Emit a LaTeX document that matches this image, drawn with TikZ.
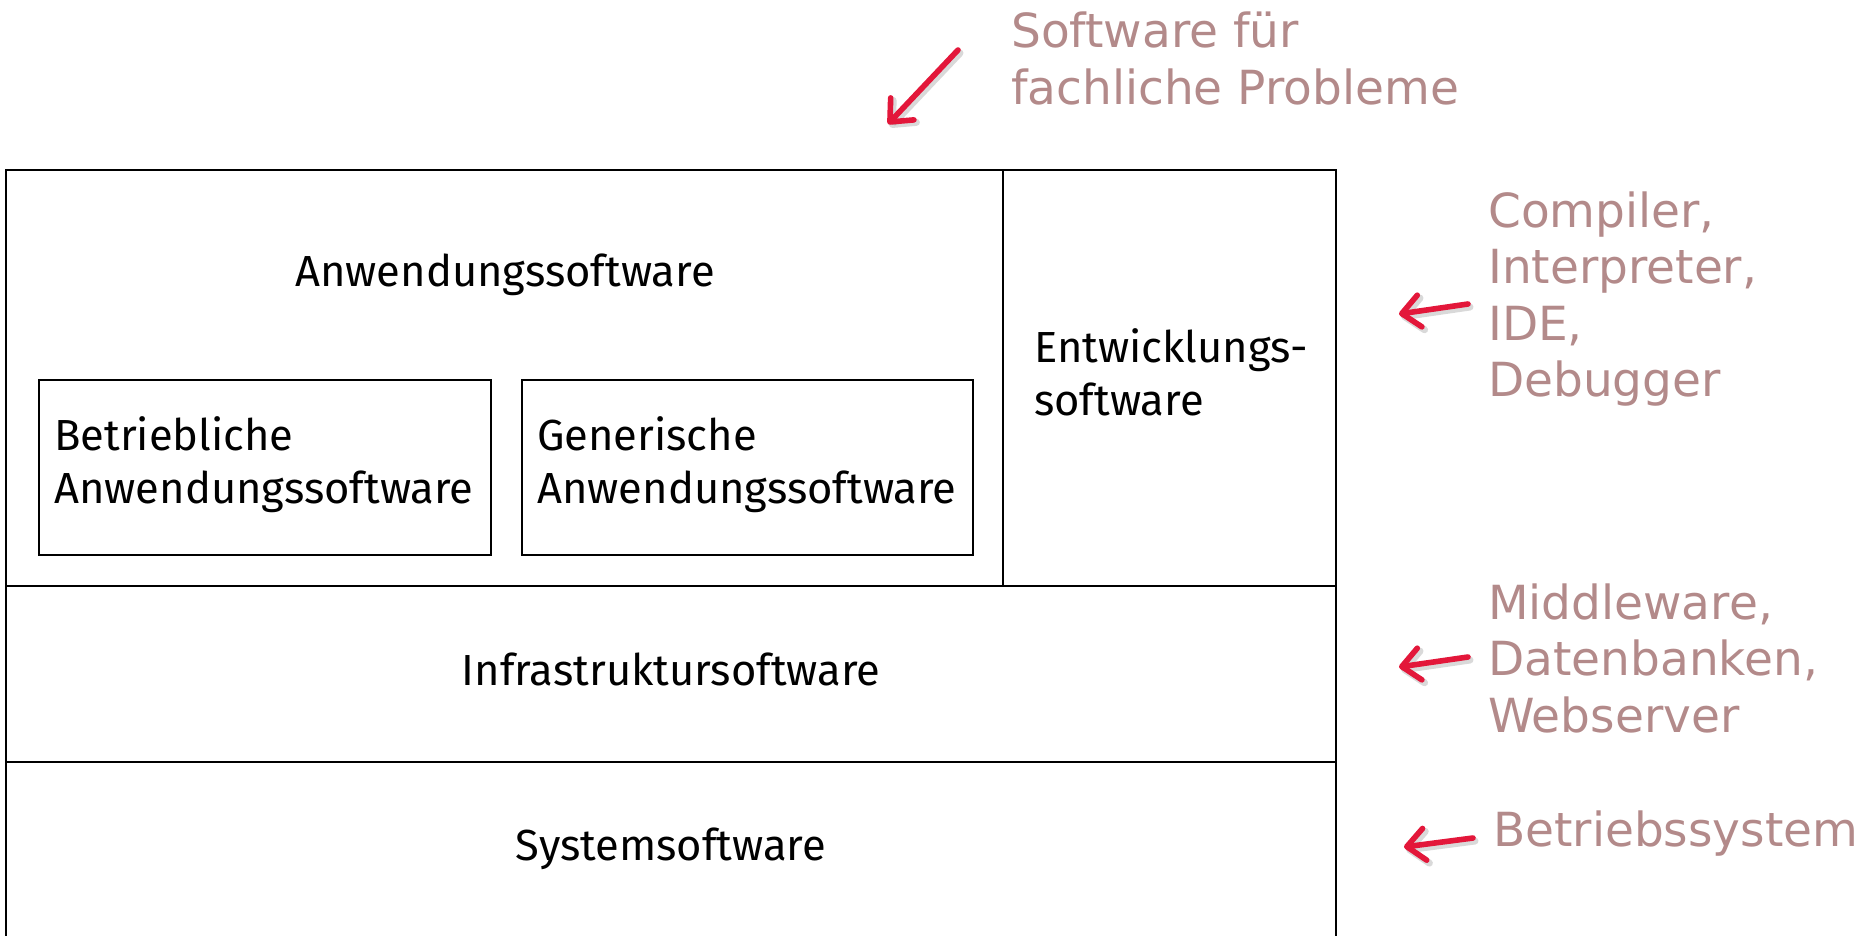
\documentclass[tikz,border=0pt]{standalone}
\usepackage{fontspec}
\setmainfont{Fira Sans}
\newfontfamily\notefont{DejaVu Sans}
\usetikzlibrary{arrows.meta}
\definecolor{notecol}{HTML}{B38A8A}
\definecolor{arrowred}{HTML}{E3173A}
\tikzset{
  frame/.style={line width=2.8pt, black},
  innerbox/.style={draw, line width=2.3pt, inner sep=0pt, anchor=north west},
  label/.style={inner sep=0pt, font=\fontsize{43.5}{53}\selectfont, text=black},
  note/.style={inner sep=0pt, anchor=base west, text=notecol, font=\notefont\fontsize{47}{56.5}\selectfont},
  redarrow/.style={arrowred, line width=5.6pt, line cap=round,
    -{Straight Barb[length=18pt,width=32pt,line cap=round,line join=round]}},
  shadowarrow/.style={black, opacity=0.15, line width=7pt, line cap=round,
    -{Straight Barb[length=18pt,width=32pt,line cap=round,line join=round]}}
}
\begin{document}
\begin{tikzpicture}[x=1pt,y=-1pt]
\useasboundingbox (0,0) rectangle (1868,936);
% structure
\coordinate (ol) at (6,936);
\coordinate (otl) at (6,170);
\coordinate (otr) at (1336,170);
\coordinate (or) at (1336,936);
\draw[frame] (ol) -- (otl) -- (otr) -- (or);
\coordinate (d1) at (1003,170);
\coordinate (d2) at (1003,586);
\draw[frame] (d1) -- (d2);
\coordinate (h1l) at (6,586);
\coordinate (h1r) at (1336,586);
\draw[frame] (h1l) -- (h1r);
\coordinate (h2l) at (6,762);
\coordinate (h2r) at (1336,762);
\draw[frame] (h2l) -- (h2r);
\node[innerbox, minimum width=452pt, minimum height=175pt] (b1) at (38,379) {};
\node[innerbox, minimum width=451pt, minimum height=175pt] (b2) at (521,379) {};
% texts
\node[label, anchor=base] (anw) at (505,286) {Anwendungssoftware};
\node[label, anchor=base west] (bet) at (54,450) {\begin{tabular}[t]{@{}l@{}}Betriebliche\\Anwendungssoftware\end{tabular}};
\node[label, anchor=base west] (gen) at (537,450) {\begin{tabular}[t]{@{}l@{}}Generische\\Anwendungssoftware\end{tabular}};
\node[label, anchor=base west] (ent) at (1034,362) {\begin{tabular}[t]{@{}l@{}}Entwicklungs-\\software\end{tabular}};
\node[label, anchor=base] (inf) at (671,685) {Infrastruktursoftware};
\node[label, anchor=base] (sys) at (671,860) {Systemsoftware};
% notes
\node[note] (n1) at (1011,48) {\begin{tabular}[t]{@{}l@{}}Software für\\fachliche Probleme\end{tabular}};
\node[note] (n2) at (1488,227) {\begin{tabular}[t]{@{}l@{}}Compiler,\\Interpreter,\\IDE,\\Debugger\end{tabular}};
\node[note] (n3) at (1488,619) {\begin{tabular}[t]{@{}l@{}}Middleware,\\Datenbanken,\\Webserver\end{tabular}};
\node[note] (n4) at (1493,846) {Betriebssystem};
% arrows
\coordinate (a1s) at (958,50);  \coordinate (a1e) at (888,124);
\coordinate (a2s) at (1468,304); \coordinate (a2e) at (1399,314);
\coordinate (a3s) at (1468,657); \coordinate (a3e) at (1399,667);
\coordinate (a4s) at (1473,838); \coordinate (a4e) at (1404,847);
\foreach \s/\e in {a1s/a1e,a2s/a2e,a3s/a3e,a4s/a4e}{
  \draw[shadowarrow, transform canvas={shift={(2pt,-3pt)}}] (\s) -- (\e);
  \draw[redarrow] (\s) -- (\e);
}
\end{tikzpicture}
\end{document}
